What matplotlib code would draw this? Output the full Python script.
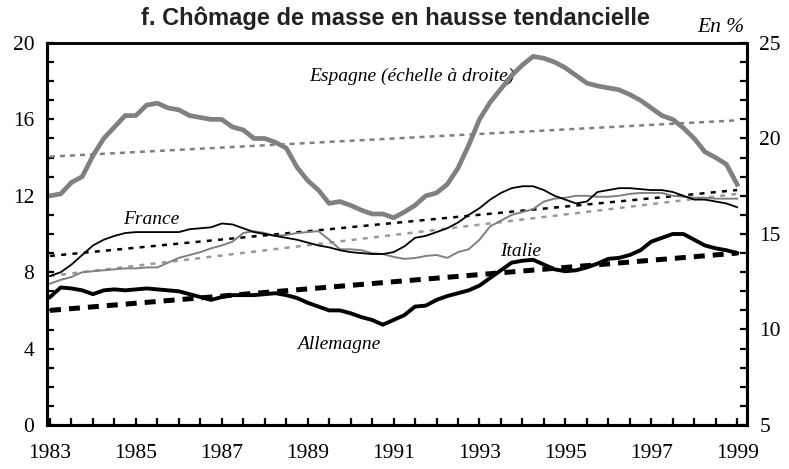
import numpy as np
import matplotlib
matplotlib.use("Agg")
import matplotlib.pyplot as plt

# Quarterly observations 1983Q1 .. 1999Q1
years = [1983 + 0.25 * i for i in range(65)]

espagne = [17.0, 17.1, 17.7, 18.0, 19.1, 20.0, 20.6, 21.2, 21.2, 21.75, 21.85, 21.6, 21.5,
           21.2, 21.1, 21.0, 21.0, 20.6, 20.45, 20.0, 20.0, 19.8, 19.5, 18.5, 17.8, 17.3,
           16.6, 16.7, 16.5, 16.25, 16.05, 16.05, 15.85, 16.15, 16.5, 17.0, 17.15, 17.6,
           18.45, 19.65, 21.0, 21.9, 22.6, 23.3, 23.85, 24.3, 24.2, 24.0, 23.7, 23.3,
           22.9, 22.75, 22.65, 22.55, 22.3, 22.0, 21.6, 21.2, 21.0, 20.55, 20.0, 19.3,
           19.0, 18.65, 17.6]
france = [7.8, 8.0, 8.4, 8.9, 9.4, 9.7, 9.9, 10.05, 10.1, 10.1, 10.1, 10.1, 10.1, 10.25,
          10.3, 10.35, 10.55, 10.5, 10.3, 10.1, 10.0, 9.9, 9.8, 9.7, 9.55, 9.4, 9.3, 9.15,
          9.05, 9.0, 8.95, 8.95, 9.05, 9.35, 9.8, 9.9, 10.1, 10.3, 10.6, 11.0, 11.35, 11.8,
          12.15, 12.4, 12.5, 12.5, 12.3, 12.0, 11.8, 11.6, 11.7, 12.2, 12.3, 12.4, 12.4,
          12.35, 12.3, 12.3, 12.2, 12.0, 11.8, 11.8, 11.7, 11.6, 11.4]
italie = [7.4, 7.6, 7.75, 8.0, 8.05, 8.1, 8.15, 8.2, 8.2, 8.25, 8.25, 8.5, 8.75, 8.9, 9.05,
          9.25, 9.4, 9.6, 10.05, 10.15, 10.05, 9.9, 9.95, 10.05, 10.1, 10.15, 9.7, 9.2,
          9.2, 9.15, 9.0, 8.95, 8.8, 8.7, 8.74, 8.85, 8.9, 8.75, 9.05, 9.2, 9.7, 10.4,
          10.7, 11.0, 11.15, 11.3, 11.7, 11.85, 11.9, 12.0, 12.0, 11.95, 11.95, 12.0,
          12.1, 12.15, 12.15, 12.15, 12.0, 11.95, 11.9, 11.9, 11.85, 11.85, 11.85]
allemagne = [6.7, 7.2, 7.15, 7.05, 6.85, 7.05, 7.1, 7.05, 7.1, 7.15, 7.1, 7.05, 7.0, 6.85,
             6.7, 6.55, 6.7, 6.8, 6.8, 6.8, 6.85, 6.9, 6.8, 6.65, 6.4, 6.2, 6.0, 6.0, 5.85,
             5.65, 5.5, 5.25, 5.5, 5.75, 6.2, 6.25, 6.55, 6.75, 6.9, 7.05, 7.3, 7.7, 8.1,
             8.5, 8.6, 8.65, 8.4, 8.15, 8.05, 8.1, 8.25, 8.45, 8.7, 8.75, 8.9, 9.15, 9.6,
             9.8, 10.0, 10.0, 9.7, 9.4, 9.25, 9.15, 9.0]

# Linear trends (start 1983, end 1999)
trend_years = [1983, 1999]
trend_espagne = [19.05, 20.95]
trend_france = [8.85, 12.3]
trend_italie = [7.8, 12.1]
trend_allemagne = [6.0, 9.0]

left_ticks = [0, 4, 8, 12, 16, 20]
right_ticks = [5, 10, 15, 20, 25]
x_labels = [1983, 1985, 1987, 1989, 1991, 1993, 1995, 1997, 1999]

serif = ["Liberation Serif", "DejaVu Serif"]
sans = ["Liberation Sans", "DejaVu Sans"]

fig = plt.figure(figsize=(7.89, 4.69), dpi=100)
ax = fig.add_axes([47 / 789, 1 - 425 / 469, 700 / 789, 382 / 469])
ax2 = ax.twinx()

gray = "#808080"
lgray = "#999999"

# Trends
ax2.plot(trend_years, trend_espagne, color=gray, lw=1.8, dashes=(2.0, 2.0))
ax.plot(trend_years, trend_france, color="black", lw=1.8, dashes=(2.0, 2.5))
ax.plot(trend_years, trend_italie, color=lgray, lw=1.8, dashes=(2.0, 2.5))
ax.plot(trend_years, trend_allemagne, color="black", lw=3.6, dashes=(2.2, 1.6))

# Series
ax.plot(years, italie, color=gray, lw=1.4)
ax.plot(years, france, color="black", lw=1.3)
ax.plot(years, allemagne, color="black", lw=2.8)
ax2.plot(years, espagne, color=gray, lw=3.4)

ax.set_xlim(1982.93, 1999.23)
ax.set_ylim(0, 20)
ax2.set_ylim(5, 25)

ax.set_yticks(left_ticks)
ax.set_yticks(range(0, 21), minor=True)
ax2.set_yticks(right_ticks)
ax2.set_yticks(range(5, 26), minor=True)
ax.set_xticks(x_labels)
ax.set_xticks(np.arange(1983, 1999.01, 0.5), minor=True)
ax.set_xticklabels([str(v) for v in x_labels])

for a in (ax, ax2):
    a.spines["left"].set_linewidth(2.2)
    a.spines["right"].set_linewidth(2.2)
    a.spines["bottom"].set_linewidth(2.2)
    a.spines["top"].set_linewidth(1.8)

ax.tick_params(axis="y", which="both", direction="in", length=5, width=1.6,
               labelsize=15.5, pad=9)
ax.tick_params(axis="x", which="both", direction="in", length=5, width=1.6,
               labelsize=15.5, pad=14)
ax2.tick_params(axis="y", which="both", direction="in", length=5, width=1.6,
                labelsize=15.5, pad=9)
for lab in ax.get_xticklabels() + ax.get_yticklabels() + ax2.get_yticklabels():
    lab.set_family(serif)

fig.text(395 / 789, 1 - 18 / 469, "f. Chômage de masse en hausse tendancielle",
         ha="center", va="center", fontsize=17, fontweight="bold",
         family=sans, color="#222222")
fig.text(721 / 789, 1 - 27 / 469, "En %", ha="center", va="center", fontsize=15.5,
         style="italic", family=serif)

ax.text(1991.42, 18.27, "Espagne (échelle à droite)", ha="center", va="center",
        fontsize=14, style="italic", family=serif)
ax.text(1985.35, 10.75, "France", ha="center", va="center", fontsize=14,
        style="italic", family=serif)
ax.text(1993.95, 9.1, "Italie", ha="center", va="center", fontsize=14,
        style="italic", family=serif)
ax.text(1989.72, 4.2, "Allemagne", ha="center", va="center", fontsize=14,
        style="italic", family=serif)

fig.savefig("out.png", dpi=100)
